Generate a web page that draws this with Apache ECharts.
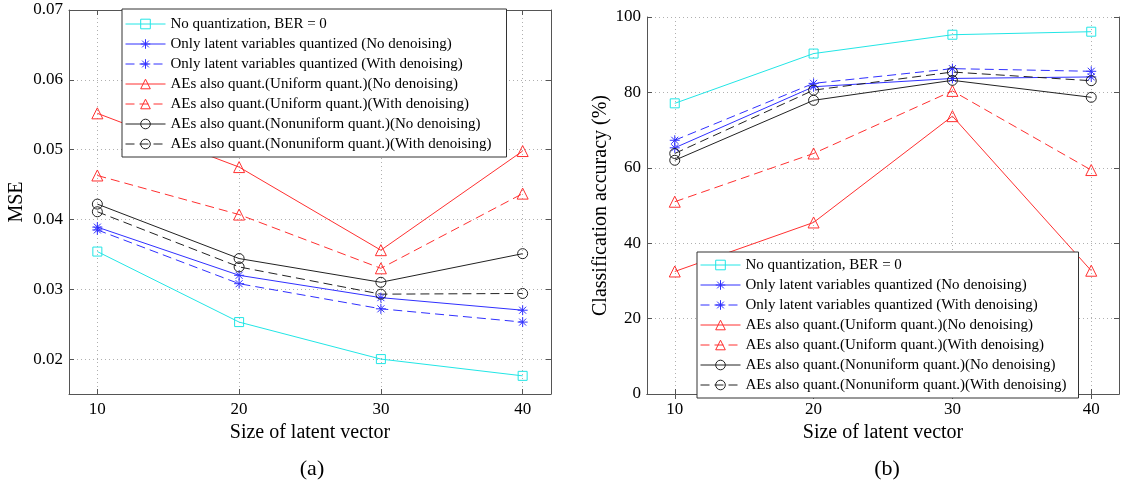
<!DOCTYPE html>
<html><head><meta charset="utf-8">
<script src="https://cdn.jsdelivr.net/npm/echarts@6/dist/echarts.min.js"></script>
<style>html,body{margin:0;padding:0;background:#fff}#c{width:1122px;height:484px}</style>
</head><body><div id="c"></div>
<script>
// ---- data ----
const sizes = [10, 20, 30, 40];
const seriesNames = [
  'No quantization, BER = 0',
  'Only latent variables quantized (No denoising)',
  'Only latent variables quantized (With denoising)',
  'AEs also quant.(Uniform quant.)(No denoising)',
  'AEs also quant.(Uniform quant.)(With denoising)',
  'AEs also quant.(Nonuniform quant.)(No denoising)',
  'AEs also quant.(Nonuniform quant.)(With denoising)'
];
// (a) MSE
const mseNoQuant      = [0.0354, 0.0253, 0.0200, 0.0176];
const mseLatentNoDen  = [0.0389, 0.0320, 0.0288, 0.0270];
const mseLatentDen    = [0.0385, 0.0308, 0.0272, 0.0253];
const mseUniNoDen     = [0.0552, 0.0475, 0.0356, 0.0498];
const mseUniDen       = [0.0463, 0.0407, 0.0330, 0.0437];
const mseNonNoDen     = [0.0422, 0.0344, 0.0310, 0.0351];
const mseNonDen       = [0.0411, 0.0332, 0.0293, 0.0294];
// (b) Classification accuracy (%)
const accNoQuant      = [77.1, 90.3, 95.3, 96.1];
const accLatentNoDen  = [65.3, 81.5, 83.7, 84.1];
const accLatentDen    = [67.3, 82.4, 86.3, 85.6];
const accUniNoDen     = [32.5, 45.5, 73.7, 32.7];
const accUniDen       = [51.0, 63.8, 80.4, 59.4];
const accNonNoDen     = [62.0, 77.9, 83.2, 78.7];
const accNonDen       = [63.8, 80.6, 85.4, 83.1];
// tick labels
const xTicks = [10, 20, 30, 40];
const mseTicks = [0.02, 0.03, 0.04, 0.05, 0.06, 0.07];
const accTicks = [0, 20, 40, 60, 80, 100];

// ---- styles ----
const FONT = 'Liberation Serif';
const STAR = 'path://M5 0L5 10M0 5L10 5M1.5 1.5L8.5 8.5M8.5 1.5L1.5 8.5';
const styles = [
  {color: '#22e6e6', symbol: 'rect', size: 9, dash: 'solid'},
  {color: '#3030ff', symbol: STAR, size: 10, dash: 'solid'},
  {color: '#3030ff', symbol: STAR, size: 10, dash: [9, 5]},
  {color: '#ff3030', symbol: 'triangle', size: 11, dash: 'solid'},
  {color: '#ff3030', symbol: 'triangle', size: 11, dash: [9, 5]},
  {color: '#222222', symbol: 'circle', size: 10, dash: 'solid'},
  {color: '#222222', symbol: 'circle', size: 10, dash: [9, 5]}
];
const mseData = [mseNoQuant, mseLatentNoDen, mseLatentDen, mseUniNoDen, mseUniDen, mseNonNoDen, mseNonDen];
const accData = [accNoQuant, accLatentNoDen, accLatentDen, accUniNoDen, accUniDen, accNonNoDen, accNonDen];

function mkSeries(vals, i, gi) {
  const s = styles[i];
  return {
    name: seriesNames[i], type: 'line',
    xAxisIndex: gi * 2, yAxisIndex: gi * 2,
    data: sizes.map((x, k) => [x, vals[k]]),
    symbol: s.symbol, symbolSize: s.size, showAllSymbol: true,
    lineStyle: {color: s.color, width: 1, type: s.dash},
    itemStyle: {color: 'rgba(0,0,0,0)', borderColor: s.color, borderWidth: 1},
    emphasis: {disabled: true}, silent: true, z: 3
  };
}

const axisLineStyle = {color: '#555', width: 1};
function xAxes(gi) {
  const base = {type: 'value', gridIndex: gi, min: 8, max: 42};
  return [
    Object.assign({}, base, {
      position: 'bottom',
      name: 'Size of latent vector', nameLocation: 'middle', nameGap: 22,
      nameTextStyle: {fontFamily: FONT, fontSize: 20, color: '#000'},
      axisLine: {show: true, lineStyle: axisLineStyle},
      axisTick: {show: true, inside: true, length: 5, lineStyle: axisLineStyle, customValues: xTicks},
      axisLabel: {show: true, customValues: xTicks, margin: 7, fontFamily: FONT, fontSize: 17, color: '#000'},
      splitLine: {show: true, customValues: xTicks, lineStyle: {color: '#b0b0b0', type: [1, 3], width: 1}}
    }),
    Object.assign({}, base, {
      position: 'top',
      axisLine: {show: true, lineStyle: axisLineStyle},
      axisTick: {show: true, inside: true, length: 5, lineStyle: axisLineStyle, customValues: xTicks},
      axisLabel: {show: false},
      splitLine: {show: false}
    })
  ];
}
function yAxes(gi, min, max, ticks, name, nameGap, margin) {
  const base = {type: 'value', gridIndex: gi, min: min, max: max};
  return [
    Object.assign({}, base, {
      position: 'left',
      name: name, nameLocation: 'middle', nameGap: nameGap, nameRotate: 90,
      nameTextStyle: {fontFamily: FONT, fontSize: 20, color: '#000'},
      axisLine: {show: true, lineStyle: axisLineStyle},
      axisTick: {show: true, inside: true, length: 5, lineStyle: axisLineStyle, customValues: ticks},
      axisLabel: {show: true, customValues: ticks, margin: margin, fontFamily: FONT, fontSize: 17, color: '#000',
                  formatter: v => String(+v.toFixed(4))},
      splitLine: {show: true, customValues: ticks, lineStyle: {color: '#b0b0b0', type: [1, 3], width: 1}}
    }),
    Object.assign({}, base, {
      position: 'right',
      axisLine: {show: true, lineStyle: axisLineStyle},
      axisTick: {show: true, inside: true, length: 5, lineStyle: axisLineStyle, customValues: ticks},
      axisLabel: {show: false},
      splitLine: {show: false}
    })
  ];
}

const legendCommon = {
  orient: 'vertical', data: seriesNames, selectedMode: false,
  itemWidth: 40, itemHeight: 12, itemGap: 4,
  backgroundColor: '#fff', borderColor: '#333', borderWidth: 1,
  lineStyle: {width: 1},
  itemStyle: {borderWidth: 1},
  textStyle: {fontFamily: FONT, fontSize: 15, lineHeight: 16, color: '#000'},
  z: 10
};

const option = {
  animation: false,
  backgroundColor: '#fff',
  grid: [
    {left: 69, top: 10, width: 482, height: 384, containLabel: false},
    {left: 647, top: 17, width: 472, height: 377, containLabel: false}
  ],
  xAxis: [...xAxes(0), ...xAxes(1)],
  yAxis: [
    ...yAxes(0, 0.015, 0.07, mseTicks, 'MSE', 42, 6),
    ...yAxes(1, 0, 100, accTicks, 'Classification accuracy (%)', 36, 6)
  ],
  legend: [
    Object.assign({}, legendCommon, {left: 122, top: 9, padding: [7, 15, 5, 3]}),
    Object.assign({}, legendCommon, {left: 697, top: 252, padding: [5, 12, 5, 3]})
  ],
  title: [
    {text: '(a)', left: 307, top: 453, textAlign: 'center',
     textStyle: {fontFamily: FONT, fontSize: 22, fontWeight: 'normal', color: '#000'}},
    {text: '(b)', left: 882, top: 453, textAlign: 'center',
     textStyle: {fontFamily: FONT, fontSize: 22, fontWeight: 'normal', color: '#000'}}
  ],
  series: [
    ...mseData.map((d, i) => mkSeries(d, i, 0)),
    ...accData.map((d, i) => mkSeries(d, i, 1))
  ]
};
const chart = echarts.init(document.getElementById('c'), null, {renderer: 'canvas'});
chart.setOption(option);
</script></body></html>
